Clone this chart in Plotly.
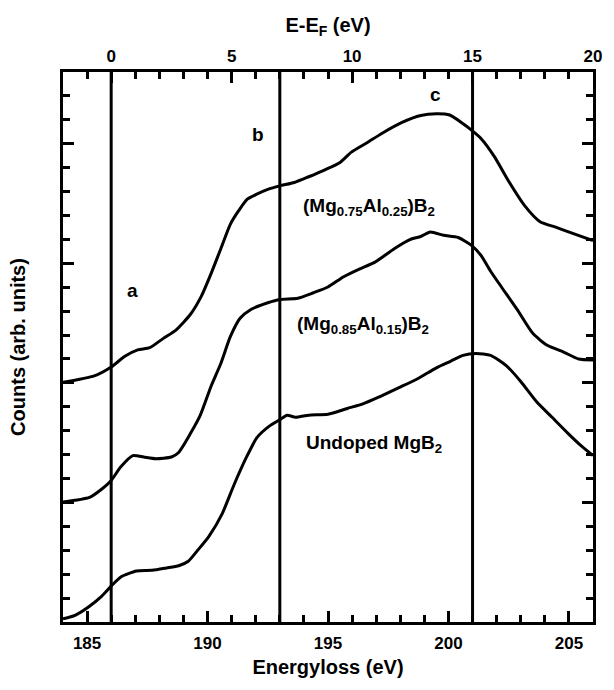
import plotly.graph_objects as go

# Energy loss (eV) and counts (arb. units)
x_top = [184.0, 185.3, 186.0, 186.55, 187.1, 187.6, 188.15, 188.7, 189.3, 189.75, 190.15, 190.55,
         190.95, 191.3, 191.65, 192.0, 192.5, 193.0, 193.6, 194.2, 194.85, 195.5, 195.97, 196.6,
         197.25, 198.05, 198.85, 199.5, 200.05, 200.55, 200.97, 201.35, 201.9, 202.5, 203.17,
         203.8, 204.45, 205.1, 206.0]
y_top = [10.02, 10.29, 10.66, 11.10, 11.38, 11.47, 11.85, 12.22, 12.88, 13.64, 14.58, 15.61,
         16.64, 17.21, 17.68, 17.87, 18.09, 18.24, 18.38, 18.62, 18.90, 19.22, 19.65, 20.03,
         20.44, 20.88, 21.18, 21.25, 21.20, 20.88, 20.56, 20.22, 19.47, 18.43, 17.40,
         16.74, 16.51, 16.27, 15.95]

x_mid = [184.0, 185.1, 185.6, 186.0, 186.4, 186.9, 187.35, 187.85, 188.5, 188.8, 189.3, 189.7,
         190.15, 190.55, 190.95, 191.35, 191.8, 192.5, 193.0, 193.75, 194.4, 195.0, 195.65,
         196.3, 196.95, 197.75, 198.4, 198.85, 199.25, 199.8, 200.4, 200.97, 201.35, 201.75,
         202.2, 202.85, 203.5, 204.1, 204.8, 205.4, 206.0]
y_mid = [5.02, 5.21, 5.55, 5.92, 6.49, 6.96, 6.90, 6.83, 6.90, 7.09, 7.90, 8.65,
         9.87, 10.81, 11.94, 12.70, 13.07, 13.35, 13.49, 13.54, 13.77, 14.01, 14.44,
         14.76, 15.05, 15.61, 15.99, 16.12, 16.31, 16.17, 16.08, 15.74, 15.33, 14.67,
         14.01, 13.07, 12.07, 11.57, 11.28, 11.00, 10.96]

x_bot = [184.0, 184.5, 185.1, 185.6, 186.0, 186.4, 187.05, 187.7, 188.3, 188.8, 189.2, 189.6,
         190.05, 190.6, 191.1, 191.6, 192.05, 192.55, 193.0, 193.3, 193.65, 194.2, 195.0,
         195.8, 196.45, 197.1, 197.9, 198.7, 199.5, 200.1, 200.6, 201.15, 201.75, 202.4,
         203.0, 203.65, 204.3, 204.95, 205.55, 206.0]
y_bot = [0.13, 0.28, 0.66, 1.07, 1.50, 1.88, 2.13, 2.16, 2.26, 2.35, 2.54, 3.01,
         3.57, 4.51, 5.74, 6.86, 7.71, 8.18, 8.46, 8.65, 8.56, 8.65, 8.69,
         8.93, 9.12, 9.40, 9.78, 10.16, 10.63, 10.91, 11.15, 11.23, 11.15, 10.72,
         10.06, 9.22, 8.56, 7.90, 7.33, 6.96]

vlines = [186, 193, 201]

labels = ["a", "b", "c"]
label_x = [186.9, 192.1, 199.45]
label_y = [13.86, 20.37, 22.06]

names = ["(Mg<sub>0.75</sub>Al<sub>0.25</sub>)B<sub>2</sub>",
         "(Mg<sub>0.85</sub>Al<sub>0.15</sub>)B<sub>2</sub>",
         "Undoped MgB<sub>2</sub>"]
name_x = [196.7, 196.45, 196.9]
name_y = [17.36, 12.41, 7.43]

X_RANGE = [184, 206]
X2_RANGE = [-2, 20]
Y_RANGE = [0, 23]

FONT = "Liberation Sans, Arial, sans-serif"
fig = go.Figure()
for xs, ys in [(x_top, y_top), (x_mid, y_mid), (x_bot, y_bot)]:
    fig.add_trace(go.Scatter(x=xs, y=ys, mode="lines",
                             line=dict(color="black", width=3, shape="spline", smoothing=0.6),
                             showlegend=False, hoverinfo="skip"))

# invisible trace to activate the top axis
fig.add_trace(go.Scatter(x=X2_RANGE, y=Y_RANGE, xaxis="x2", yaxis="y", mode="lines",
                         line=dict(width=0, color="rgba(0,0,0,0)"),
                         showlegend=False, hoverinfo="skip"))

for v in vlines:
    fig.add_shape(type="line", x0=v, x1=v, y0=Y_RANGE[0], y1=Y_RANGE[1], xref="x", yref="y",
                  line=dict(color="black", width=3))

for t, xx, yy in zip(labels, label_x, label_y):
    fig.add_annotation(x=xx, y=yy, text="<b>%s</b>" % t, showarrow=False,
                       font=dict(family=FONT, size=19, color="black"))
for t, xx, yy in zip(names, name_x, name_y):
    fig.add_annotation(x=xx, y=yy, text="<b>%s</b>" % t, showarrow=False,
                       font=dict(family=FONT, size=19, color="black"))

tickfont = dict(family=FONT, size=17, color="black", weight="bold")
common = dict(showgrid=False, zeroline=False, showline=True, linecolor="black", linewidth=3,
              ticks="inside", ticklen=11, tickwidth=2.5, tickcolor="black")


def minor(t0):
    return dict(dtick=1, tick0=t0, ticks="inside", ticklen=7, tickwidth=2.5, tickcolor="black",
                showgrid=False)


fig.update_layout(
    width=614, height=690, plot_bgcolor="white", paper_bgcolor="white",
    margin=dict(l=63, r=12, t=72, b=68),
    font=dict(family=FONT, color="black"),
    xaxis=dict(range=X_RANGE, dtick=5, tick0=185, anchor="y", side="bottom",
               minor=minor(184), tickfont=tickfont, ticklabelstandoff=4,
               title=dict(text="<b>Energyloss (eV)</b>", font=dict(size=20), standoff=8), **common),
    xaxis2=dict(range=X2_RANGE, dtick=5, tick0=0, anchor="y", overlaying="x", side="top",
                minor=minor(0), tickfont=tickfont, ticklabelstandoff=0,
                title=dict(text="<b>E-E<sub>F</sub> (eV)</b>", font=dict(size=20), standoff=10), **common),
    yaxis=dict(range=Y_RANGE, dtick=5, tick0=0, anchor="x", showticklabels=False, mirror="ticks",
               minor=minor(0),
               title=dict(text="<b>Counts (arb. units)</b>", font=dict(size=20), standoff=30), **common),
)
fig.write_html("out.html")
